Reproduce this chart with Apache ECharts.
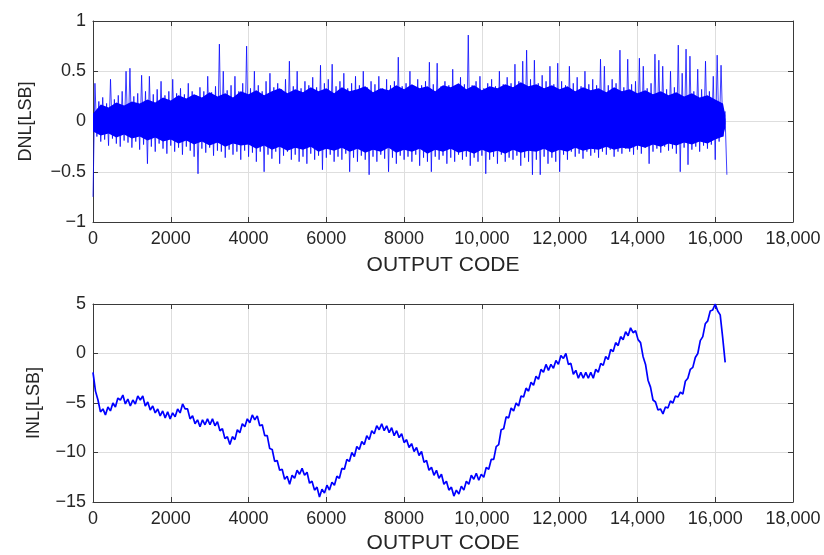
<!DOCTYPE html>
<html lang="en">
<head>
    <meta charset="UTF-8">
    <title>DNL / INL</title>
    <script src="https://cdn.jsdelivr.net/npm/echarts@6/dist/echarts.min.js"></script>
    <style>
        html, body { margin: 0; padding: 0; background: #fff; }
        #chart { width: 824px; height: 555px; }
    </style>
</head>
<body>
<div id="chart"></div>
<script>
    // x 轴刻度（输出码）
    var codeTicks = [0, 2000, 4000, 6000, 8000, 10000, 12000, 14000, 16000, 18000];
    var dnlTicks = [-1, -0.5, 0, 0.5, 1];
    var inlTicks = [-15, -10, -5, 0, 5];

    // DNL 实心核心带：code = j*200（最后一点为末端 16260）
    var CORE_STEP = 200;
    var CODE_END = 16260;
    var dnlCoreTop = [
        0.08, 0.17, 0.14, 0.19, 0.16, 0.2, 0.18, 0.22, 0.19, 0.24,
        0.21, 0.26, 0.23, 0.27, 0.24, 0.29, 0.25, 0.28, 0.24, 0.3,
        0.27, 0.31, 0.26, 0.3, 0.33, 0.28, 0.32, 0.29, 0.34, 0.3,
        0.33, 0.28, 0.34, 0.3, 0.32, 0.35, 0.29, 0.33, 0.31, 0.36,
        0.32, 0.37, 0.33, 0.35, 0.3, 0.36, 0.34, 0.38, 0.32, 0.36,
        0.31, 0.35, 0.33, 0.37, 0.34, 0.39, 0.35, 0.37, 0.33, 0.36,
        0.32, 0.35, 0.3, 0.34, 0.31, 0.33, 0.29, 0.34, 0.3, 0.32,
        0.28, 0.31, 0.27, 0.3, 0.26, 0.29, 0.25, 0.28, 0.24, 0.26,
        0.22, 0.18, 0.06
    ];
    var dnlCoreBottom = [
        -0.1, -0.14, -0.12, -0.16, -0.13, -0.17, -0.15, -0.19, -0.16, -0.2,
        -0.18, -0.22, -0.19, -0.23, -0.2, -0.24, -0.21, -0.25, -0.22, -0.24,
        -0.23, -0.27, -0.24, -0.28, -0.25, -0.29, -0.26, -0.28, -0.25, -0.3,
        -0.27, -0.29, -0.26, -0.3, -0.27, -0.31, -0.28, -0.3, -0.26, -0.31,
        -0.28, -0.3, -0.27, -0.32, -0.28, -0.3, -0.27, -0.31, -0.29, -0.32,
        -0.28, -0.31, -0.29, -0.32, -0.28, -0.31, -0.29, -0.3, -0.27, -0.31,
        -0.28, -0.3, -0.26, -0.29, -0.27, -0.28, -0.25, -0.28, -0.26, -0.27,
        -0.24, -0.26, -0.23, -0.25, -0.22, -0.24, -0.21, -0.23, -0.2, -0.22,
        -0.18, -0.15, -0.06
    ];

    // DNL 毛刺: 下端点在 code = i*100，上端点在 code = i*100+50
    var DNL_STEP = 100;
    var dnlBottom = [
        -0.75, -0.15, -0.2, -0.18, -0.24, -0.17, -0.22, -0.25, -0.19, -0.21,
        -0.26, -0.2, -0.28, -0.23, -0.42, -0.25, -0.3, -0.22, -0.27, -0.32,
        -0.24, -0.3, -0.26, -0.33, -0.25, -0.29, -0.35, -0.52, -0.27, -0.31,
        -0.26, -0.34, -0.29, -0.3, -0.36, -0.28, -0.33, -0.3, -0.38, -0.29,
        -0.35, -0.31, -0.4, -0.3, -0.5, -0.33, -0.37, -0.3, -0.42, -0.34,
        -0.3, -0.38, -0.33, -0.4, -0.35, -0.42, -0.32, -0.38, -0.34, -0.48,
        -0.36, -0.33, -0.4, -0.35, -0.38, -0.32, -0.5, -0.36, -0.4, -0.34,
        -0.38, -0.53, -0.35, -0.4, -0.33, -0.37, -0.5, -0.36, -0.42, -0.34,
        -0.38, -0.35, -0.4, -0.33, -0.44, -0.36, -0.4, -0.5, -0.35, -0.38,
        -0.34, -0.42, -0.36, -0.4, -0.33, -0.38, -0.35, -0.44, -0.36, -0.4,
        -0.34, -0.52, -0.38, -0.35, -0.42, -0.33, -0.4, -0.36, -0.38, -0.34,
        -0.44, -0.36, -0.4, -0.53, -0.38, -0.53, -0.35, -0.42, -0.36, -0.4,
        -0.5, -0.33, -0.38, -0.3, -0.35, -0.32, -0.37, -0.3, -0.34, -0.31,
        -0.36, -0.3, -0.33, -0.28, -0.35, -0.3, -0.32, -0.27, -0.3, -0.33,
        -0.28, -0.32, -0.26, -0.42, -0.3, -0.27, -0.31, -0.25, -0.29, -0.27,
        -0.32, -0.5, -0.26, -0.43, -0.28, -0.25, -0.3, -0.24, -0.27, -0.23,
        -0.38, -0.2, -0.15, -0.53
    ];
    var dnlTop = [
        0.38, 0.2, 0.24, 0.18, 0.42, 0.22, 0.26, 0.3, 0.5, 0.53,
        0.25, 0.28, 0.46, 0.3, 0.45, 0.27, 0.32, 0.4, 0.26, 0.3,
        0.42, 0.28, 0.33, 0.27, 0.38, 0.3, 0.26, 0.34, 0.3, 0.45,
        0.29, 0.35, 0.77, 0.5, 0.31, 0.36, 0.45, 0.3, 0.38, 0.75,
        0.33, 0.5, 0.36, 0.3, 0.4, 0.48, 0.34, 0.38, 0.32, 0.42,
        0.6, 0.35, 0.5, 0.33, 0.4, 0.36, 0.44, 0.34, 0.56, 0.38,
        0.42, 0.57, 0.35, 0.4, 0.48, 0.33, 0.38, 0.45, 0.36, 0.5,
        0.34, 0.4, 0.37, 0.45, 0.33, 0.42, 0.36, 0.4, 0.64, 0.35,
        0.38, 0.5, 0.34, 0.42, 0.36, 0.4, 0.59, 0.37, 0.58, 0.35,
        0.4, 0.36, 0.52, 0.34, 0.44, 0.37, 0.86, 0.36, 0.4, 0.45,
        0.33, 0.38, 0.42, 0.35, 0.5, 0.37, 0.44, 0.38, 0.57, 0.4,
        0.6, 0.71, 0.42, 0.61, 0.38, 0.46, 0.4, 0.55, 0.37, 0.58,
        0.4, 0.36, 0.55, 0.38, 0.44, 0.35, 0.5, 0.37, 0.42, 0.36,
        0.62, 0.55, 0.36, 0.42, 0.38, 0.71, 0.34, 0.62, 0.37, 0.4,
        0.63, 0.55, 0.33, 0.38, 0.67, 0.61, 0.55, 0.32, 0.5, 0.34,
        0.76, 0.48, 0.72, 0.65, 0.3, 0.52, 0.32, 0.6, 0.3, 0.45,
        0.66, 0.56, 0.1
    ];

    // INL: code = k*64（从图上读出，含小锯齿）
    var INL_STEP = 64;
    var inlValues = [
        -1.9, -3.8, -4.7, -5.9, -5.6, -6.2, -5.4, -5.8, -5.0, -5.4,
        -4.5, -4.7, -4.2, -5.1, -4.6, -5.3, -4.7, -5.1, -4.3, -4.7,
        -4.3, -5.3, -4.9, -5.7, -5.3, -6.0, -5.6, -6.3, -5.8, -6.5,
        -5.9, -6.6, -6.0, -6.4, -5.6, -6.0, -5.1, -5.6, -5.6, -6.6,
        -6.3, -7.1, -6.7, -7.4, -6.7, -7.2, -6.6, -7.2, -6.6, -7.3,
        -6.9, -7.8, -7.6, -8.6, -8.4, -9.2, -8.4, -8.7, -7.7, -8.0,
        -7.1, -7.4, -6.6, -7.0, -6.2, -6.7, -6.3, -7.3, -7.2, -8.3,
        -8.3, -9.6, -9.7, -10.9, -10.8, -11.8, -11.7, -12.7, -12.4, -13.2,
        -12.3, -12.6, -11.8, -12.2, -11.6, -12.3, -12.0, -13.1, -12.9, -13.8,
        -13.5, -14.5, -13.7, -14.1, -13.3, -13.8, -13.0, -13.3, -12.4, -12.6,
        -11.6, -11.7, -10.7, -10.9, -10.0, -10.4, -9.4, -9.7, -8.9, -9.2,
        -8.3, -8.7, -7.8, -8.1, -7.3, -7.7, -7.1, -7.8, -7.3, -8.0,
        -7.5, -8.3, -7.8, -8.5, -8.1, -9.0, -8.7, -9.5, -9.1, -9.9,
        -9.5, -10.3, -9.9, -11.0, -10.8, -11.8, -11.5, -12.3, -11.8, -12.6,
        -12.2, -13.2, -12.9, -13.8, -13.5, -14.4, -13.8, -14.2, -13.4, -13.8,
        -12.9, -13.2, -12.3, -12.7, -12.1, -12.8, -12.2, -12.5, -11.5, -11.7,
        -10.7, -10.7, -9.4, -9.2, -7.7, -7.6, -6.4, -6.5, -5.5, -5.8,
        -5.0, -5.3, -4.3, -4.4, -3.5, -3.8, -2.9, -3.2, -2.3, -2.6,
        -1.6, -1.9, -1.1, -1.7, -1.1, -1.5, -0.7, -1.1, -0.2, -0.5,
        0.0, -1.1, -1.0, -2.1, -1.7, -2.5, -1.9, -2.5, -1.9, -2.5,
        -1.9, -2.5, -1.6, -1.9, -1.0, -1.2, -0.3, -0.6, 0.4, 0.2,
        1.1, 0.8, 1.7, 1.4, 2.2, 1.8, 2.6, 2.1, 2.3, 1.4,
        1.1, -0.3, -1.1, -2.7, -3.4, -4.7, -4.9, -5.7, -5.6, -6.1,
        -5.4, -5.5, -4.8, -5.0, -4.3, -4.4, -3.9, -4.1, -2.8, -2.5,
        -1.6, -1.4, -0.4, 0.0, 1.3, 1.7, 3.0, 3.3, 4.3, 4.4,
        5.0, 4.3, 3.9, 1.6, -0.9
    ];

    // 组装数据
    var dnlData = [];
    for (var i = 0; i < dnlBottom.length; i++) {
        dnlData.push([i * DNL_STEP, dnlBottom[i]]);
        if (i < dnlTop.length) {
            dnlData.push([i * DNL_STEP + DNL_STEP / 2, dnlTop[i]]);
        }
    }
    var coreTopData = [], coreBottomData = [];
    for (var j = 0; j < dnlCoreTop.length; j++) {
        var c = Math.min(j * CORE_STEP, CODE_END);
        coreTopData.push([c, dnlCoreTop[j]]);
        coreBottomData.push([c, dnlCoreBottom[j]]);
    }
    var inlData = [];
    for (var k = 0; k < inlValues.length; k++) {
        inlData.push([k * INL_STEP, inlValues[k]]);
    }

    var FONT = 'Liberation Sans';
    var TXT = '#262626';
    var BOX = '#3a3a3a';
    var GRID = '#dedede';
    var BLUE = '#0000ff';

    function minusFmt(v) {
        var s = String(v);
        return s.charAt(0) === '-' ? '\u2212' + s.slice(1) : s;
    }
    function codeFmt(v) {
        if (v >= 10000) {
            return String(v).replace(/(\d)(?=(\d{3})+$)/g, '$1,');
        }
        return String(v);
    }

    function xMain(gi, gap) {
        return {
            type: 'value', gridIndex: gi, position: 'bottom',
            min: codeTicks[0], max: codeTicks[codeTicks.length - 1], interval: 2000,
            name: 'OUTPUT CODE', nameLocation: 'middle', nameGap: gap,
            nameTextStyle: { fontFamily: FONT, fontSize: 21, color: TXT },
            axisLine: { onZero: false, lineStyle: { color: BOX, width: 1 } },
            axisTick: { inside: true, length: 5, lineStyle: { color: BOX } },
            axisLabel: { fontFamily: FONT, fontSize: 18, color: TXT, margin: 8, formatter: codeFmt },
            splitLine: { show: true, lineStyle: { color: GRID, width: 1 } }
        };
    }
    function xTop(gi) {
        return {
            type: 'value', gridIndex: gi, position: 'top',
            min: codeTicks[0], max: codeTicks[codeTicks.length - 1], interval: 2000,
            axisLine: { onZero: false, lineStyle: { color: BOX, width: 1 } },
            axisTick: { inside: true, length: 5, lineStyle: { color: BOX } },
            axisLabel: { show: false },
            splitLine: { show: false }
        };
    }
    function yMain(gi, ticks, name, gap) {
        return {
            type: 'value', gridIndex: gi, position: 'left',
            min: ticks[0], max: ticks[ticks.length - 1], interval: ticks[1] - ticks[0],
            name: name, nameLocation: 'middle', nameGap: gap, nameRotate: 90,
            nameTextStyle: { fontFamily: FONT, fontSize: 18, color: TXT },
            axisLine: { show: true, onZero: false, lineStyle: { color: BOX, width: 1 } },
            axisTick: { show: true, inside: true, length: 5, lineStyle: { color: BOX } },
            axisLabel: { fontFamily: FONT, fontSize: 18, color: TXT, margin: 7, formatter: minusFmt },
            splitLine: { show: true, lineStyle: { color: GRID, width: 1 } }
        };
    }
    function yRight(gi, ticks) {
        return {
            type: 'value', gridIndex: gi, position: 'right',
            min: ticks[0], max: ticks[ticks.length - 1], interval: ticks[1] - ticks[0],
            axisLine: { show: true, onZero: false, lineStyle: { color: BOX, width: 1 } },
            axisTick: { show: true, inside: true, length: 5, lineStyle: { color: BOX } },
            axisLabel: { show: false },
            splitLine: { show: false }
        };
    }

    var myChart = echarts.init(document.getElementById('chart'), null, { renderer: 'canvas' });
    var option = {
        backgroundColor: '#ffffff',
        animation: false,
        grid: [
            { left: 93, right: 31, top: 21, height: 201 },
            { left: 93, right: 31, top: 304, height: 202 }
        ],
        xAxis: [xMain(0, 33), xTop(0), xMain(1, 31), xTop(1)],
        yAxis: [
            yMain(0, dnlTicks, 'DNL[LSB]', 58), yRight(0, dnlTicks),
            yMain(1, inlTicks, 'INL[LSB]', 50), yRight(1, inlTicks)
        ],
        series: [
            {
                name: 'DNL', type: 'line', xAxisIndex: 0, yAxisIndex: 0,
                data: dnlData, showSymbol: false, symbol: 'none',
                lineStyle: { color: BLUE, width: 1, opacity: 0.75 }
            },
            {
                name: 'DNL core top', type: 'line', xAxisIndex: 0, yAxisIndex: 0,
                data: coreTopData, showSymbol: false, symbol: 'none',
                lineStyle: { width: 0 },
                areaStyle: { color: BLUE, opacity: 1, origin: -0.03 }
            },
            {
                name: 'DNL core bottom', type: 'line', xAxisIndex: 0, yAxisIndex: 0,
                data: coreBottomData, showSymbol: false, symbol: 'none',
                lineStyle: { width: 0 },
                areaStyle: { color: BLUE, opacity: 1, origin: 0.03 }
            },
            {
                name: 'INL', type: 'line', xAxisIndex: 2, yAxisIndex: 2,
                data: inlData, showSymbol: false, symbol: 'none',
                lineStyle: { color: BLUE, width: 1.7 }
            }
        ]
    };
    myChart.setOption(option);
</script>
</body>
</html>
